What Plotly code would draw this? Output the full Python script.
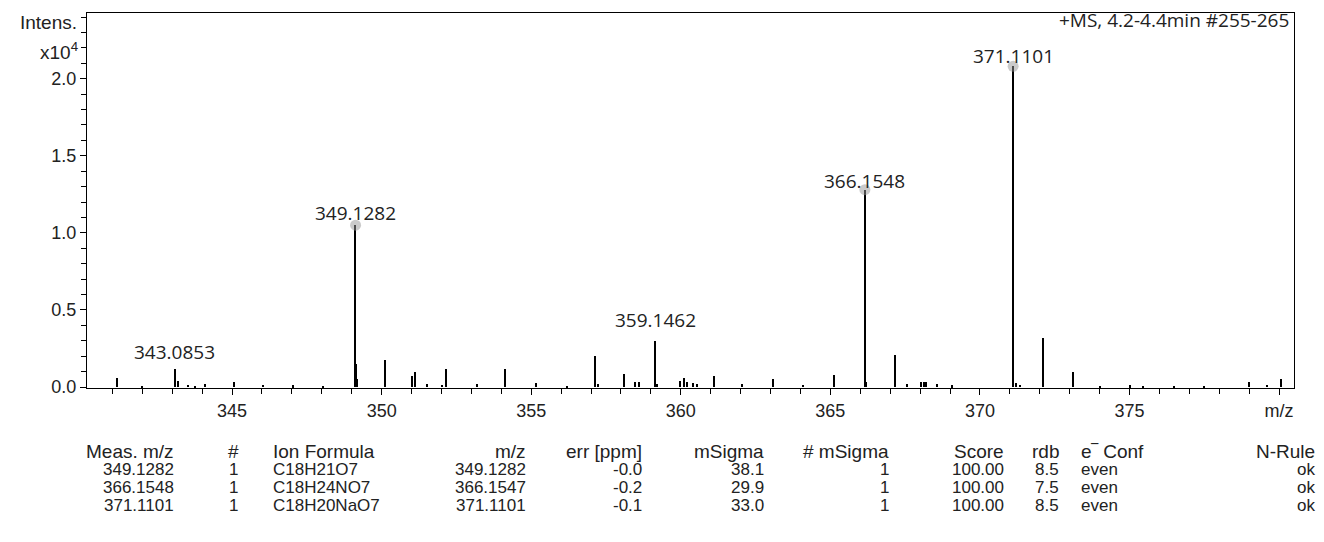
import plotly.graph_objects as go

# ---------------- data ----------------
# spectrum peaks: m/z and intensity (x10^4)
peak_mz = [341.16, 342.00, 343.0853, 343.20, 343.53, 343.76, 344.10, 345.07, 346.04, 347.04, 348.04,
           349.1282, 349.16, 349.19, 350.13, 351.02, 351.13, 351.52, 352.02, 352.14, 353.19, 354.14,
           355.17, 356.2, 357.13, 357.24, 358.12, 358.48, 358.62, 359.1462, 359.22, 359.98, 360.12,
           360.20, 360.40, 360.55, 361.10, 362.06, 363.08, 364.10, 365.12, 366.1548, 366.19, 367.16,
           367.58, 368.05, 368.12, 368.19, 368.58, 369.08, 371.1101, 371.20, 371.35, 372.11, 373.10,
           374.03, 375.03, 375.47, 376.5, 377.5, 379.01, 379.60, 380.08]
peak_int = [0.058, 0.010, 0.120, 0.040, 0.015, 0.010, 0.020, 0.030, 0.015, 0.012, 0.008,
            1.050, 0.150, 0.050, 0.174, 0.070, 0.100, 0.020, 0.015, 0.115, 0.020, 0.115,
            0.025, 0.008, 0.200, 0.020, 0.084, 0.035, 0.035, 0.300, 0.020, 0.040, 0.060,
            0.030, 0.025, 0.020, 0.075, 0.020, 0.055, 0.015, 0.080, 1.280, 0.030, 0.210,
            0.020, 0.035, 0.035, 0.035, 0.020, 0.012, 2.080, 0.025, 0.015, 0.316, 0.095,
            0.010, 0.012, 0.008, 0.006, 0.006, 0.030, 0.015, 0.050]

# labelled peaks
label_mz = [343.0853, 349.1282, 359.1462, 366.1548, 371.1101]
label_int = [0.120, 1.050, 0.300, 1.280, 2.080]
label_text = ["343.0853", "349.1282", "359.1462", "366.1548", "371.1101"]
label_yshift = [2, -3, 6, -6, -5]

# matched (dotted) peaks
match_mz = [349.1282, 366.1548, 371.1101]
match_int = [1.050, 1.280, 2.080]

x_tickvals = [345, 350, 355, 360, 365, 370, 375, 380]
x_ticktext = ["345", "350", "355", "360", "365", "370", "375", "m/z"]
y_tickvals = [0, 0.5, 1.0, 1.5, 2.0]
y_ticktext = ["0.0", "0.5", "1.0", "1.5", "2.0"]

header_info = "+MS, 4.2-4.4min #255-265"

# results table
tbl_headers = ["Meas. m/z", "#", "Ion Formula", "m/z", "err [ppm]", "mSigma", "# mSigma",
               "Score", "rdb", "e‾ Conf", "N-Rule"]
meas_mz = ["349.1282", "366.1548", "371.1101"]
cand_no = ["1", "1", "1"]
ion_formula = ["C18H21O7", "C18H24NO7", "C18H20NaO7"]
calc_mz = ["349.1282", "366.1547", "371.1101"]
err_ppm = ["-0.0", "-0.2", "-0.1"]
msigma = ["38.1", "29.9", "33.0"]
n_msigma = ["1", "1", "1"]
score = ["100.00", "100.00", "100.00"]
rdb = ["8.5", "7.5", "8.5"]
e_conf = ["even", "even", "even"]
n_rule = ["ok", "ok", "ok"]
tbl_columns = [meas_mz, cand_no, ion_formula, calc_mz, err_ppm, msigma, n_msigma,
               score, rdb, e_conf, n_rule]

# ---------------- layout geometry (page pixel coords) ----------------
PAGE_W, PAGE_H = 1324, 542
OFF = 8                      # default page body margin
W, H = PAGE_W - OFF, PAGE_H - OFF
L, R, T, B = 87, 1294, 13, 388
PW, PH = R - L, B - T


def px(xp):
    return (xp - L) / PW


def py(yp):
    return (B - yp) / PH


FONT = "Liberation Sans, Arial, sans-serif"
LFONT = "Open Sans, Noto Sans, sans-serif"

fig = go.Figure()
fig.add_trace(go.Bar(x=peak_mz, y=peak_int, width=0.04,
                     marker=dict(color="black", line=dict(width=0)),
                     hoverinfo="x+y", showlegend=False))
fig.add_trace(go.Scatter(x=match_mz, y=match_int, mode="markers",
                         marker=dict(size=11, color="rgba(150,150,150,0.5)"),
                         showlegend=False, hoverinfo="skip"))

annotations = []
for m, h, t, s in zip(label_mz, label_int, label_text, label_yshift):
    annotations.append(dict(x=m, y=h, xref="x", yref="y", text=t, showarrow=False,
                            xanchor="center", yanchor="bottom", yshift=s,
                            font=dict(family=LFONT, size=19, color="#222")))

annotations.append(dict(x=px(1291), y=py(20), xref="paper", yref="paper", text=header_info,
                        showarrow=False, xanchor="right", yanchor="middle",
                        font=dict(family=LFONT, size=19, color="#222")))
annotations.append(dict(x=px(79), y=py(23), xref="paper", yref="paper", text="Intens.",
                        showarrow=False, xanchor="right", yanchor="middle",
                        font=dict(family=FONT, size=19, color="#222")))
annotations.append(dict(x=px(80), y=py(51), xref="paper", yref="paper", text="x10<sup>4</sup>",
                        showarrow=False, xanchor="right", yanchor="middle",
                        font=dict(family=FONT, size=19, color="#222")))

# table column anchors (pixel x, anchor)
col_pos = [(175, "right"), (233, "center"), (272, "left"), (527, "right"), (643, "right"),
           (765, "right"), (890, "right"), (1005, "right"), (1060, "right"), (1080, "left"),
           (1316, "right")]
row_y = [451, 470, 487.5, 505]
for (xp, anc), head, col in zip(col_pos, tbl_headers, tbl_columns):
    annotations.append(dict(x=px(xp), y=py(row_y[0]), xref="paper", yref="paper", text=head,
                            showarrow=False, xanchor=anc, yanchor="middle", borderpad=0,
                            font=dict(family=FONT, size=19, color="#222")))
    for i, v in enumerate(col):
        annotations.append(dict(x=px(xp), y=py(row_y[i + 1]), xref="paper", yref="paper", text=v,
                                showarrow=False, xanchor=anc, yanchor="middle", borderpad=0,
                                font=dict(family=FONT, size=17, color="#222")))

fig.update_layout(
    width=W, height=H,
    margin=dict(l=L - OFF, r=PAGE_W - R, t=T - OFF, b=PAGE_H - B, pad=0),
    paper_bgcolor="white", plot_bgcolor="white",
    annotations=annotations,
    bargap=0,
    xaxis=dict(range=[340.15, 380.5], tickvals=x_tickvals, ticktext=x_ticktext,
               ticks="outside", ticklen=6, tickcolor="black", tickwidth=1,
               minor=dict(tickvals=list(range(341, 381)), ticks="outside", ticklen=5,
                          tickcolor="black", showgrid=False),
               showline=True, linecolor="black", linewidth=1, mirror=True,
               showgrid=False, zeroline=False,
               tickfont=dict(family=FONT, size=18, color="#222")),
    yaxis=dict(range=[-0.006, 2.426], tickvals=y_tickvals, ticktext=y_ticktext,
               ticks="outside", ticklen=6, tickcolor="black", tickwidth=1,
               minor=dict(tickvals=[round(0.1 * i, 1) for i in range(1, 25)], ticks="outside",
                          ticklen=5, tickcolor="black", showgrid=False),
               showline=True, linecolor="black", linewidth=1, mirror=True,
               showgrid=False, zeroline=False,
               tickfont=dict(family=FONT, size=18, color="#222")),
)

fig.write_html("out.html")
